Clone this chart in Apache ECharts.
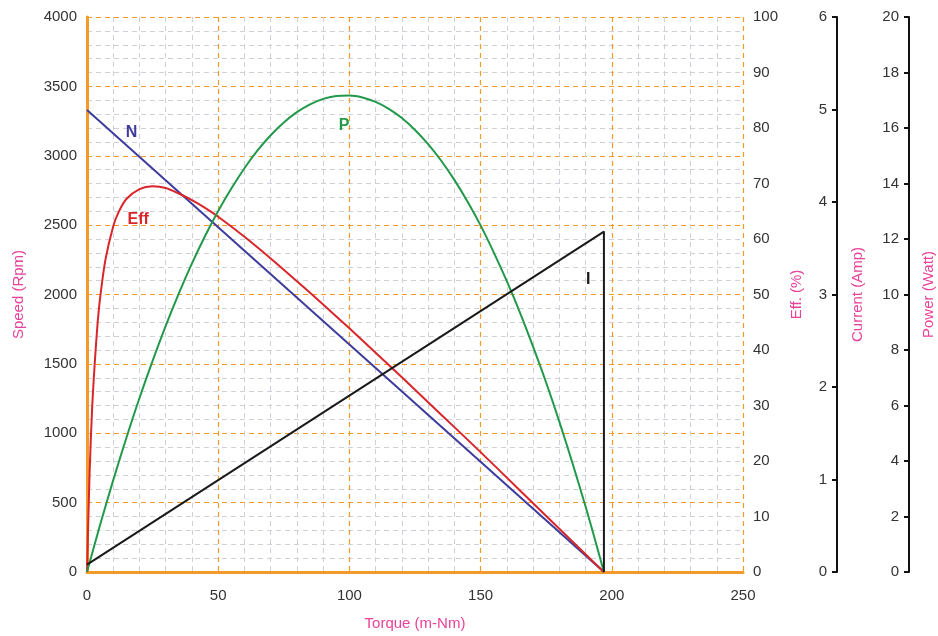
<!DOCTYPE html>
<html>
<head>
<meta charset="utf-8">
<script src="https://cdn.jsdelivr.net/npm/echarts@6/dist/echarts.min.js"></script>
<style>
  html, body { margin: 0; padding: 0; background: #fff; }
  #chart { width: 938px; height: 636px; }
</style>
</head>
<body>
<div id="chart"></div>
<script>
// Motor performance curves versus load torque (m-Nm)
const speedTorque = [0, 197];
const speedRpm = [3330, 0];

const effTorque = [0, 1, 2, 3, 4, 5, 7, 10, 12, 15, 20, 25, 30, 35, 40, 45, 50, 60, 70, 80, 90, 100, 110, 120, 130, 140, 150, 160, 170, 180, 190, 197];
const effPct    = [0, 18, 30, 38, 44.6, 49.4, 56.2, 62.3, 64.8, 67.2, 69, 69.5, 69.2, 68.2, 67, 65.6, 64, 60.4, 56.5, 52.4, 48.2, 43.9, 39.5, 35.1, 30.6, 26.1, 21.6, 17, 12.4, 7.8, 3.2, 0];

const powerTorque = [0, 5, 10, 15, 20, 25, 30, 35, 40, 45, 50, 55, 60, 65, 70, 75, 80, 85, 90, 95, 100, 105, 110, 115, 120, 125, 130, 135, 140, 145, 150, 155, 160, 165, 170, 175, 180, 185, 190, 193, 197];
const powerWatt   = [0, 1.70, 3.31, 4.83, 6.27, 7.61, 8.87, 10.04, 11.12, 12.11, 13.01, 13.82, 14.55, 15.19, 15.74, 16.20, 16.57, 16.85, 17.05, 17.15, 17.17, 17.10, 16.94, 16.69, 16.36, 15.93, 15.42, 14.82, 14.13, 13.35, 12.49, 11.52, 10.48, 9.35, 8.12, 6.82, 5.42, 3.93, 2.36, 1.37, 0];

const currentTorque = [0, 197, 197];
const currentAmp    = [0.08, 3.68, 0];

const orange = '#f39a2a';
const pink = '#e8429a';
const labelColor = '#333';
const fontFamily = '"Liberation Sans", Arial, sans-serif';

const zip = (xs, ys) => xs.map((x, i) => [x, ys[i]]);
const plain = v => String(v);

function tag(text, coord, color) {
  return {
    symbol: 'circle', symbolSize: 0,
    data: [{ coord: coord }],
    label: { show: true, position: 'inside', formatter: text, color: color, fontSize: 16, fontWeight: 'bold', fontFamily: fontFamily },
    silent: true
  };
}

const chart = echarts.init(document.getElementById('chart'), null, { renderer: 'canvas' });

const baseY = {
  type: 'value',
  nameLocation: 'middle',
  nameRotate: 90,
  nameTextStyle: { color: pink, fontSize: 15, fontFamily: fontFamily },
  axisLabel: { color: labelColor, fontSize: 15, fontFamily: fontFamily, formatter: plain },
  splitLine: { show: false }
};

chart.setOption({
  animation: false,
  backgroundColor: '#fff',
  grid: { left: 87, right: 195, top: 17, bottom: 64, containLabel: false, outerBoundsMode: 'none' },
  xAxis: {
    type: 'value', min: 0, max: 250, interval: 50,
    name: 'Torque (m-Nm)', nameLocation: 'middle', nameGap: 44,
    nameTextStyle: { color: pink, fontSize: 15, fontFamily: fontFamily },
    axisLine: { show: true, lineStyle: { color: orange, width: 3 } },
    axisTick: { show: false },
    axisLabel: { color: labelColor, fontSize: 15, fontFamily: fontFamily, margin: 16, formatter: plain },
    splitLine: { show: true, showMinLine: false, showMaxLine: true, lineStyle: { color: orange, type: [5, 4], width: 1.2 } },
    minorTick: { show: false, splitNumber: 5 },
    minorSplitLine: { show: true, lineStyle: { color: '#cfd0d8', type: [5, 4], width: 1 } }
  },
  yAxis: [
    Object.assign({}, baseY, {
      position: 'left', min: 0, max: 4000, interval: 500,
      name: 'Speed (Rpm)', nameGap: 61,
      axisLine: { show: true, lineStyle: { color: orange, width: 3 } },
      axisTick: { show: false },
      axisLabel: Object.assign({}, baseY.axisLabel, { margin: 10 }),
      splitLine: { show: true, showMinLine: false, showMaxLine: true, lineStyle: { color: orange, type: [5, 4], width: 1.2 } },
      minorTick: { show: false, splitNumber: 5 },
      minorSplitLine: { show: true, lineStyle: { color: '#cfd0d8', type: [5, 4], width: 1 } }
    }),
    Object.assign({}, baseY, {
      position: 'right', offset: 0, min: 0, max: 100, interval: 10,
      name: 'Eff. (%)', nameGap: 27,
      axisLine: { show: false },
      axisTick: { show: false },
      axisLabel: Object.assign({}, baseY.axisLabel, { margin: 10 })
    }),
    Object.assign({}, baseY, {
      position: 'right', offset: 94, min: 0, max: 6, interval: 1,
      name: 'Current (Amp)', nameGap: 13,
      axisLine: { show: true, lineStyle: { color: '#111', width: 2 } },
      axisTick: { show: true, inside: true, length: 5, lineStyle: { color: '#111', width: 2 } },
      axisLabel: Object.assign({}, baseY.axisLabel, { inside: true, margin: 10 })
    }),
    Object.assign({}, baseY, {
      position: 'right', offset: 166, min: 0, max: 20, interval: 2,
      name: 'Power (Watt)', nameGap: 12,
      axisLine: { show: true, lineStyle: { color: '#111', width: 2 } },
      axisTick: { show: true, inside: true, length: 5, lineStyle: { color: '#111', width: 2 } },
      axisLabel: Object.assign({}, baseY.axisLabel, { inside: true, margin: 10 })
    })
  ],
  series: [
    {
      name: 'N', type: 'line', yAxisIndex: 0, showSymbol: false,
      data: zip(speedTorque, speedRpm),
      lineStyle: { color: '#3d3c9c', width: 2 },
      markPoint: tag('N', [17, 3165], '#3d3c9c')
    },
    {
      name: 'Eff', type: 'line', yAxisIndex: 1, showSymbol: false, smooth: 0.25,
      data: zip(effTorque, effPct),
      lineStyle: { color: '#d8262b', width: 2 },
      markPoint: tag('Eff', [19.5, 63.5], '#d8262b')
    },
    {
      name: 'P', type: 'line', yAxisIndex: 3, showSymbol: false, smooth: 0.3,
      data: zip(powerTorque, powerWatt),
      lineStyle: { color: '#22994a', width: 2 },
      markPoint: tag('P', [98, 16.1], '#22994a')
    },
    {
      name: 'I', type: 'line', yAxisIndex: 2, showSymbol: false,
      data: zip(currentTorque, currentAmp),
      lineStyle: { color: '#1a1a1a', width: 2 },
      markPoint: tag('I', [191, 3.16], '#1a1a1a')
    }
  ]
});
</script>
</body>
</html>
